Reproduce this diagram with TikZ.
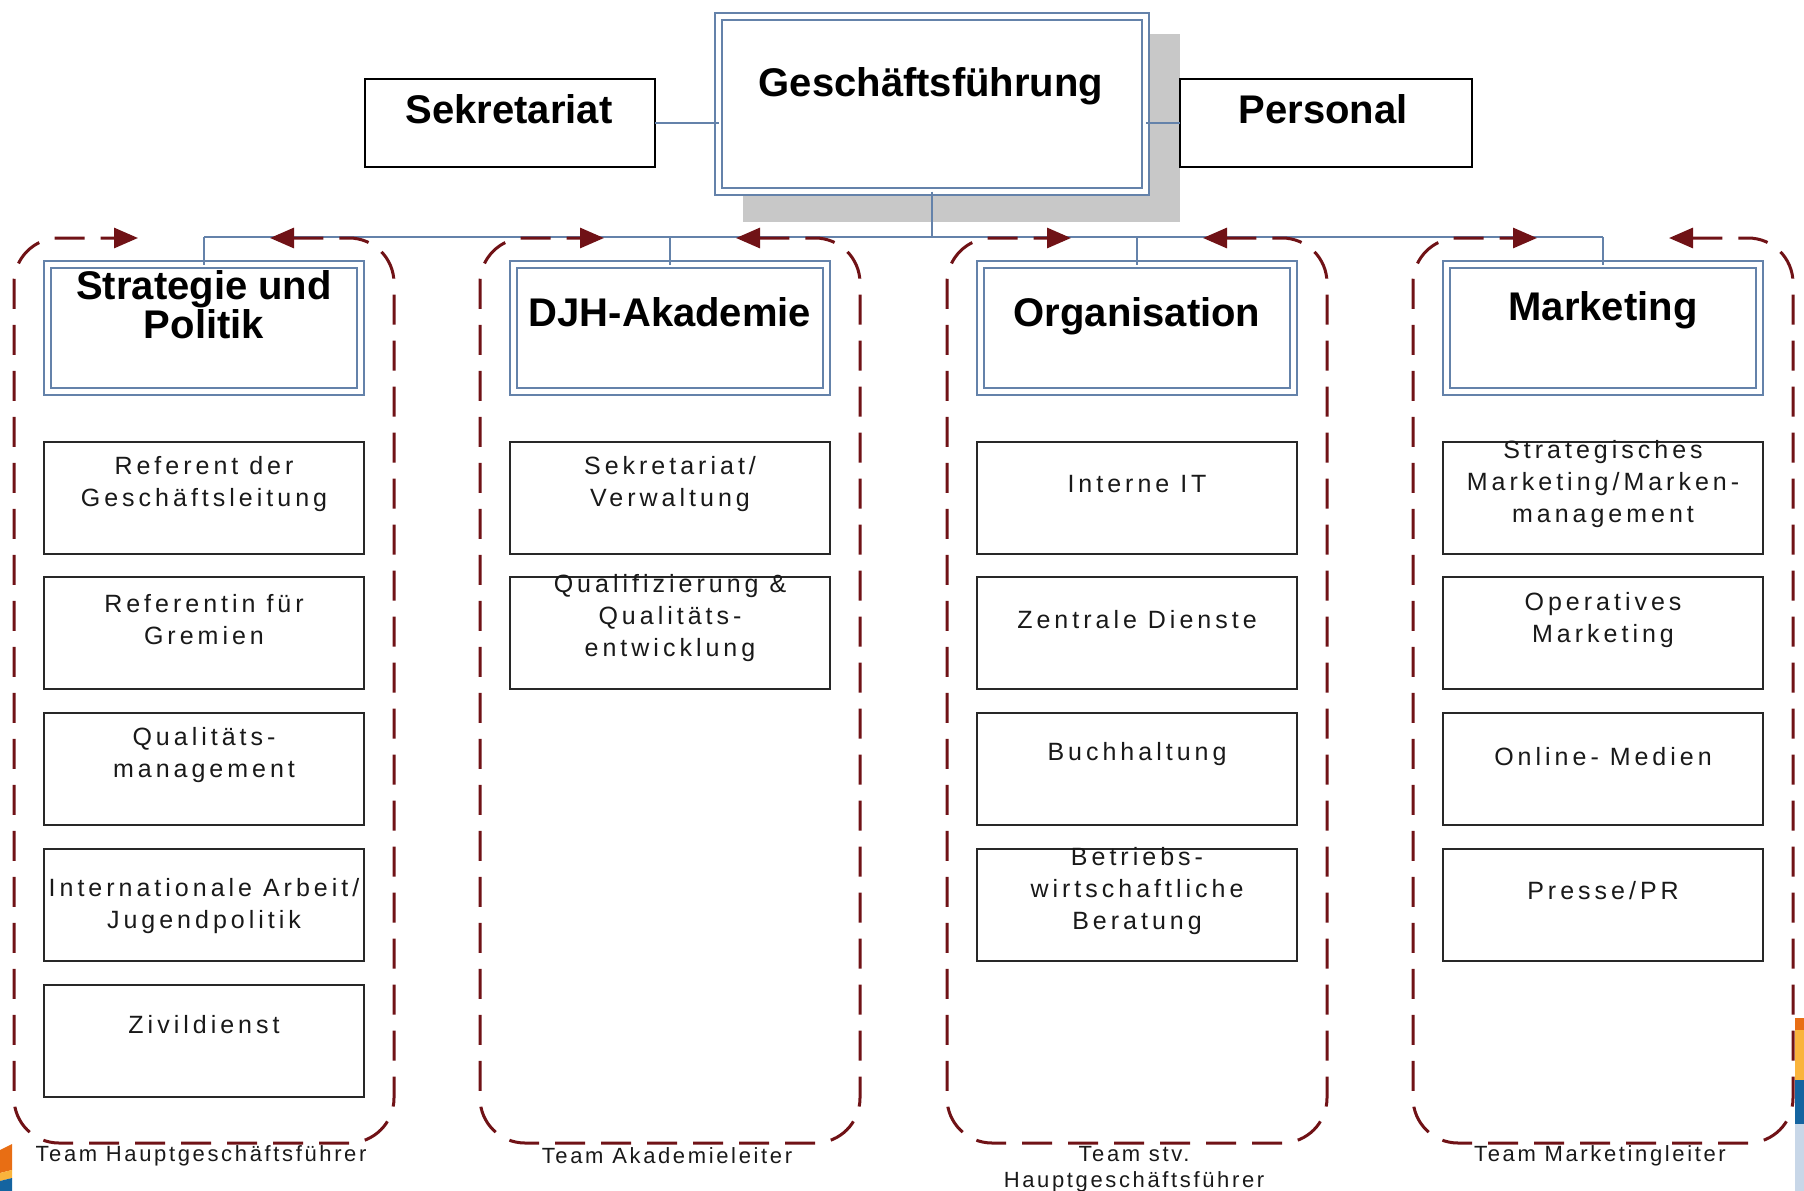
\documentclass[tikz,border=0pt]{standalone}
\usepackage{fontspec}
\setmainfont{Liberation Sans}
\newfontfamily\unitfont[LetterSpace=16]{Liberation Sans}
\newfontfamily\teamfont[LetterSpace=12]{Liberation Sans}
\usetikzlibrary{arrows.meta}

\definecolor{linkblue}{RGB}{100,130,170}
\definecolor{shadowgrey}{RGB}{200,200,200}
\definecolor{teamred}{RGB}{112,18,22}
\definecolor{boxline}{RGB}{40,40,40}
\definecolor{bodytext}{RGB}{25,25,25}
\definecolor{stripeorange}{RGB}{232,110,20}
\definecolor{stripeyellow}{RGB}{250,180,60}
\definecolor{stripeblue}{RGB}{20,100,160}
\definecolor{stripepale}{RGB}{200,215,232}

\tikzset{
  plainbox/.style={draw=black, line width=2pt, fill=white, inner sep=0pt, outer sep=0pt,
    minimum width=290pt, minimum height=88pt},
  framedbox/.style={draw=linkblue, line width=2pt, double=white, double distance=5pt,
    fill=white, inner sep=0pt, outer sep=0pt},
  unitbox/.style={draw=boxline, line width=2pt, fill=white, inner sep=0pt, outer sep=0pt,
    minimum width=320pt, minimum height=112pt},
  headtext/.style={font=\fontsize{40}{37}\selectfont\bfseries, align=center, inner sep=0pt},
  unittext/.style={font=\unitfont\fontsize{25}{32}\selectfont, text=bodytext, align=center, inner sep=0pt},
  teamtext/.style={font=\teamfont\fontsize{22}{26}\selectfont, text=bodytext, align=center, inner sep=0pt},
  conn/.style={draw=linkblue, line width=2pt},
  teamframe/.style={draw=teamred, line width=3pt, dash pattern=on 30pt off 16pt,
    rounded corners=45pt,
    arrows={Triangle[length=24pt,width=20pt]-Triangle[length=24pt,width=20pt]}},
}

\begin{document}
\begin{tikzpicture}[x=1pt,y=-1pt]
\fill[white] (0,0) rectangle (1804,1191);
\useasboundingbox (0,0) rectangle (1804,1191);

% management level
\fill[shadowgrey] (743,34) rectangle (1180,222);
\node[framedbox, minimum width=427pt, minimum height=175pt] (gf) at (932,104) {};
\node[headtext] (gft) at (931,86) {Geschäftsführung};
\node[plainbox] (sek) at (510,123) {};
\node[headtext] (sekt) at (509,109) {Sekretariat};
\node[plainbox, minimum width=292pt] (pers) at (1326,123) {};
\node[headtext] (perst) at (1323,109) {Personal};

% department heads
\node[framedbox, minimum width=313pt, minimum height=127pt] (h1) at (204,328) {};
\node[framedbox, minimum width=313pt, minimum height=127pt] (h2) at (670,328) {};
\node[framedbox, minimum width=313pt, minimum height=127pt] (h3) at (1137,328) {};
\node[framedbox, minimum width=313pt, minimum height=127pt] (h4) at (1603,328) {};
\node[headtext] (h1t) at (204,304.5) {Strategie und\\Politik};
\node[headtext] (h2t) at (670,312) {DJH-Akademie};
\node[headtext] (h3t) at (1137,316) {Organisation};
\node[headtext] (h4t) at (1603,310) {Marketing};

% units, column 1
\node[unitbox] (u11) at (204,497.5) {};
\node[unitbox] (u12) at (204,633.3) {};
\node[unitbox] (u13) at (204,769.1) {};
\node[unitbox] (u14) at (204,904.9) {};
\node[unitbox] (u15) at (204,1040.7) {};
\node[unittext] (u11t) at (204,484) {Referent der\\Geschäftsleitung};
\node[unittext] (u12t) at (204,620) {Referentin für\\Gremien};
\node[unittext] (u13t) at (204,755.5) {Qualitäts-\\management};
\node[unittext] (u14t) at (204,906) {Internationale Arbeit/\\Jugendpolitik};
\node[unittext] (u15t) at (204,1025) {Zivildienst};

% units, column 2
\node[unitbox] (u21) at (670,497.5) {};
\node[unitbox] (u22) at (670,633.3) {};
\node[unittext] (u21t) at (670,484) {Sekretariat/\\Verwaltung};
\node[unittext] (u22t) at (670,618.5) {Qualifizierung \&\\Qualitäts-\\entwicklung};

% units, column 3
\node[unitbox] (u31) at (1137,497.5) {};
\node[unitbox] (u32) at (1137,633.3) {};
\node[unitbox] (u33) at (1137,769.1) {};
\node[unitbox] (u34) at (1137,904.9) {};
\node[unittext] (u31t) at (1137,484) {Interne IT};
\node[unittext] (u32t) at (1137,620) {Zentrale Dienste};
\node[unittext] (u33t) at (1137,754) {Buchhaltung};
\node[unittext] (u34t) at (1137,891.5) {Betriebs-\\wirtschaftliche\\Beratung};

% units, column 4
\node[unitbox] (u41) at (1603,497.5) {};
\node[unitbox] (u42) at (1603,633.3) {};
\node[unitbox] (u43) at (1603,769.1) {};
\node[unitbox] (u44) at (1603,904.9) {};
\node[unittext] (u41t) at (1603,484.5) {Strategisches\\Marketing/Marken-\\management};
\node[unittext] (u42t) at (1603,620) {Operatives\\Marketing};
\node[unittext] (u43t) at (1603,757) {Online- Medien};
\node[unittext] (u44t) at (1603,891) {Presse/PR};

% reporting lines
\coordinate (busL) at (204,237);
\coordinate (busR) at (1603,237);
\draw[conn] (sek.east) -- (sek.east -| gf.west);
\draw[conn] (pers.west) -- (pers.west -| gf.east);
\draw[conn] (gf.south) -- (gf.south |- busL);
\draw[conn] (busL) -- (busR);
\foreach \h in {h1,h2,h3,h4}
  \draw[conn] (\h.north |- busL) -- (\h.north);

% team frames
\foreach \c in {204,670,1137,1603}
  \draw[teamframe] ({\c+66},238) -- ({\c+190},238) -- ({\c+190},1143)
    -- ({\c-190},1143) -- ({\c-190},238) -- ({\c-66},238);

% team captions
\node[teamtext] (t1) at (201,1156) {Team Hauptgeschäftsführer};
\node[teamtext] (t2) at (667,1156) {Team Akademieleiter};
\node[teamtext] (t3) at (1134,1169) {Team stv.\\Hauptgeschäftsführer};
\node[teamtext] (t4) at (1600,1156) {Team Marketingleiter};

% corner stripes
\fill[stripeorange] (0,1150) -- (12,1144) -- (12,1170) -- (0,1173) -- cycle;
\fill[stripeyellow] (0,1173) -- (12,1170) -- (12,1178) -- (0,1181) -- cycle;
\fill[stripeblue] (0,1181) -- (12,1178) -- (12,1191) -- (0,1191) -- cycle;
\fill[stripeorange] (1795,1018) rectangle (1804,1030);
\fill[stripeyellow] (1795,1030) rectangle (1804,1080);
\fill[stripeblue] (1795,1080) rectangle (1804,1124);
\fill[stripepale] (1795,1124) rectangle (1804,1191);
\end{tikzpicture}
\end{document}
